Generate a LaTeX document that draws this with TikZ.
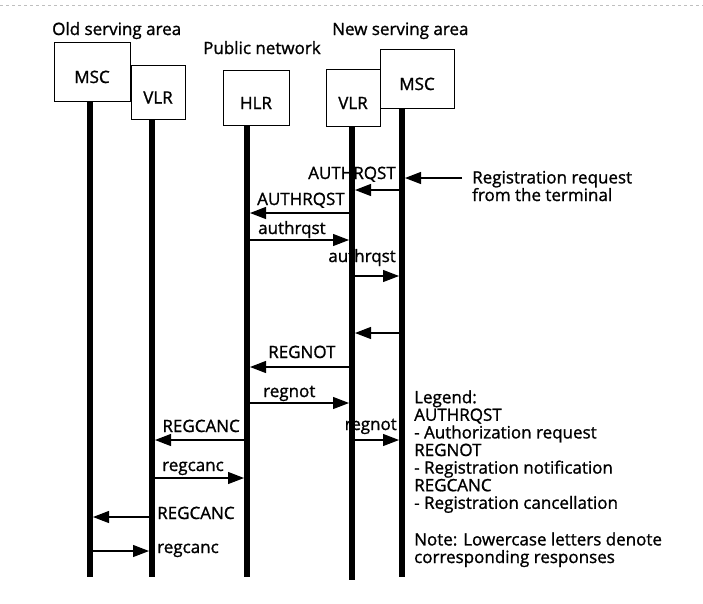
\documentclass[tikz,border=0pt]{standalone}
\usepackage{fontspec}
\setmainfont{Open Sans}[FakeBold=1.2,AutoFakeBold=1.2]
\usepackage{tikz}
\usetikzlibrary{arrows.meta}

\begin{document}
\begin{tikzpicture}[x=1pt,y=-1pt,font=\fontsize{17}{17.6}\selectfont\bfseries,
box/.style={draw,line width=0.9pt,fill=white,inner sep=0pt,text height=23pt,text depth=0pt},
life/.style={line width=6pt},
msg/.style={line width=1.1pt,-{Triangle[length=16pt,width=12pt]},shorten >=3pt},
lbl/.style={inner sep=0pt}]
\useasboundingbox (0,0) rectangle (703,603);
\draw[gray!50,dashed,line width=0.6pt](0,5)--(703,5);
\node[lbl,anchor=base west](oldarea) at (52,35){Old serving area};
\node[lbl,anchor=base west](pubnet) at (203,54){Public network};
\node[lbl,anchor=base west](newarea) at (332,35){New serving area};
\node[lbl,anchor=base east](m1) at (396,179){AUTHRQST};
\node[lbl,anchor=base west](m2) at (257,205){AUTHRQST};
\node[lbl,anchor=base west](m3) at (258,234){authrqst};
\node[lbl,anchor=base east](m4) at (396,262){authrqst};
\node[lbl,anchor=base west](m5) at (268,358){REGNOT};
\node[lbl,anchor=base west](m6) at (263,397){regnot};
\node[lbl,anchor=base east](m7) at (240,432){REGCANC};
\node[lbl,anchor=base east](m8) at (397,430){regnot};
\node[lbl,anchor=base west](m9) at (162,471){regcanc};
\node[lbl,anchor=base west](m10) at (157,519){REGCANC};
\node[lbl,anchor=base west](m11) at (157,553){regcanc};
\coordinate(omscE) at (90,577);
\coordinate(ovlrE) at (152,577);
\coordinate(hlrE) at (247,577);
\coordinate(nvlrE) at (352,580);
\coordinate(nmscE) at (402,577);
\node[box,minimum width=76pt,minimum height=59pt](omsc) at (92,71.5){MSC};
\node[box,minimum width=54pt,minimum height=54pt](ovlr) at (158,92){VLR};
\node[box,minimum width=66pt,minimum height=55pt](hlr) at (256,97.5){HLR};
\node[box,minimum width=54pt,minimum height=57pt](nvlr) at (353,97.5){VLR};
\node[box,minimum width=74pt,minimum height=59pt](nmsc) at (417,78.5){MSC};
\draw[life](omsc.south -| omscE)--(omscE);
\draw[life](ovlr.south -| ovlrE)--(ovlrE);
\draw[life](hlr.south -| hlrE)--(hlrE);
\draw[life](nvlr.south -| nvlrE)--(nvlrE);
\draw[life](nmsc.south -| nmscE)--(nmscE);
\coordinate(term) at (462,178);
\node[lbl,anchor=base west,align=left](req) at (472,201){Registration request\\from the terminal};
\draw[msg](term)--(nmscE |- term);
\draw[msg](nmscE |- 0,190)--(nvlrE |- 0,190);
\draw[msg](nvlrE |- 0,213)--(hlrE |- 0,213);
\draw[msg](hlrE |- 0,240)--(nvlrE |- 0,240);
\draw[msg](nvlrE |- 0,276)--(nmscE |- 0,276);
\draw[msg](nmscE |- 0,333)--(nvlrE |- 0,333);
\draw[msg](nvlrE |- 0,367)--(hlrE |- 0,367);
\draw[msg](hlrE |- 0,403)--(nvlrE |- 0,403);
\draw[msg](hlrE |- 0,440)--(ovlrE |- 0,440);
\draw[msg](nvlrE |- 0,440)--(nmscE |- 0,440);
\draw[msg](ovlrE |- 0,478)--(hlrE |- 0,478);
\draw[msg](ovlrE |- 0,517)--(omscE |- 0,517);
\draw[msg](omscE |- 0,551)--(ovlrE |- 0,551);
\node[lbl,anchor=base west,align=left](legend) at (414,563){Legend:\\AUTHRQST\\- Authorization request\\REGNOT\\- Registration notification\\REGCANC\\- Registration cancellation\\[19pt]Note: Lowercase letters denote\\corresponding responses};
\end{tikzpicture}
\end{document}
